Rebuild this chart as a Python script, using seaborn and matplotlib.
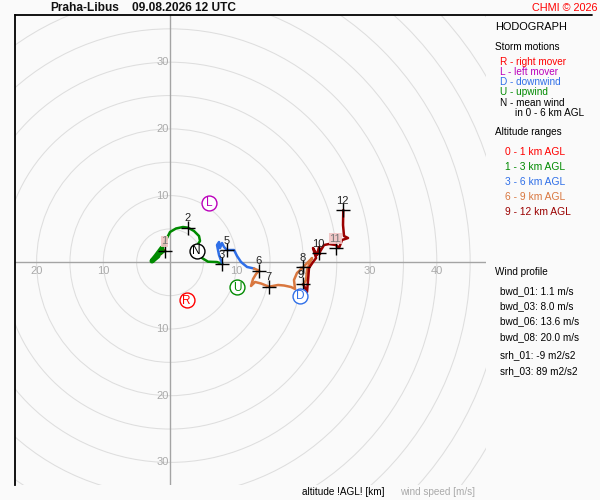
import numpy as np
import pandas as pd
import matplotlib
matplotlib.use("Agg")
import matplotlib.pyplot as plt
from matplotlib.patches import Circle
from matplotlib.lines import Line2D
import seaborn as sns

# ---------------- data ----------------
station = "Praha-Libus"
stamp = "09.08.2026 12 UTC"

# hodograph path (u, v in m/s) per altitude layer
u_0_1 = [-1.35, -1.05, -0.75]
v_0_1 = [1.25, 1.85, 1.74]

u_1_3 = [-0.75, -1.8, -2.7, -2.1, -1.2, -0.6, 0.0, 0.9, 1.95, 2.7, 3.6, 4.35, 4.5, 4.2, 4.05, 4.8, 5.7, 7.05, 7.84]
v_1_3 = [1.74, 0.94, 0.19, 0.94, 2.14, 3.34, 4.54, 5.07, 5.29, 5.19, 4.69, 3.94, 3.19, 2.74, 1.69, 0.64, 0.09, 0.04, -0.25]

u_3_6 = [7.84, 7.35, 7.05, 7.35, 7.5, 7.8, 8.1, 8.55, 9.6, 10.05, 10.65, 11.55, 12.6]
v_3_6 = [-0.25, 1.09, 2.59, 3.04, 2.14, 2.89, 2.29, 1.84, 1.84, 0.94, 0.04, -0.7, -0.93]

u_6_9 = [12.6, 13.35, 12.9, 12.45, 12.15, 12.75, 13.65, 14.84, 16.2, 17.1, 18.14, 18.74, 18.59, 19.04, 19.99, 20.7, 21.3, 21.0, 20.54, 20.4, 19.99]
v_6_9 = [-0.93, -1.26, -1.75, -2.5, -3.55, -2.95, -3.18, -3.66, -3.4, -3.48, -3.7, -4.0, -2.65, -1.6, -0.7, 0.04, 0.64, 0.04, -1.15, -2.65, -3.3]

u_9_12 = [19.99, 20.54, 20.7, 20.84, 21.44, 21.9, 21.44, 22.04, 22.34, 22.5, 22.34, 23.09, 23.84, 24.89, 25.34, 25.79, 26.69, 26.09, 25.94, 25.98]
v_9_12 = [-3.3, -4.45, -2.65, -0.85, 0.04, 0.64, 2.14, 1.09, 2.29, 1.24, 1.35, 2.59, 2.74, 2.59, 2.14, 3.34, 3.64, 3.94, 5.59, 7.84]

layers = ["0 - 1 km AGL", "1 - 3 km AGL", "3 - 6 km AGL", "6 - 9 km AGL", "9 - 12 km AGL"]
layer_colors = ["#ff0000", "#008a00", "#2f6fe8", "#d9773f", "#9a0000"]

# altitude markers (km)
alt_labels = ["1", "2", "3", "5", "6", "7", "8", "9", "10", "11", "12"]
alt_u = [-0.75, 2.7, 7.84, 8.6, 13.4, 14.9, 20.0, 20.0, 22.3, 24.9, 26.0]
alt_v = [1.74, 5.19, -0.25, 1.84, -1.26, -3.66, -0.7, -3.3, 1.35, 2.1, 7.84]

# storm motions
storm_letters = ["R", "L", "N", "U", "D"]
storm_u = [2.5, 5.9, 4.0, 10.1, 19.5]
storm_v = [-5.7, 8.9, 1.7, -3.74, -5.06]
storm_colors = ["#ff0000", "#bb00bb", "#000000", "#008a00", "#2f6fe8"]

# rings and labels
ring_radii = list(range(5, 65, 5))
hlabels = [-20, -10, 10, 20, 30, 40]
vlabels = [30, 20, 10, -10, -20, -30]

# legend texts
storm_legend = ["R - right mover", "L - left mover", "D - downwind", "U - upwind", "N - mean wind"]
storm_legend_colors = ["#ff0000", "#bb00bb", "#2f6fe8", "#008a00", "#000000"]
profile_texts = ["bwd_01: 1.1 m/s", "bwd_03: 8.0 m/s", "bwd_06: 13.6 m/s", "bwd_08: 20.0 m/s",
                 "srh_01: -9 m2/s2", "srh_03: 89 m2/s2"]

# ---------------- style ----------------
sns.set_theme(style="white")
plt.rcParams["font.family"] = ["Liberation Sans", "DejaVu Sans"]
BG = "#fafafa"

fig = plt.figure(figsize=(6, 5), dpi=100, facecolor=BG)
W, H = 600.0, 500.0


def fx(x):
    return x / W


def fy(y):
    return 1 - y / H


ax = fig.add_axes([15 / W, 15 / H, 471 / W, 470 / H])
ax.set_facecolor(BG)
S = 6.67
ax.set_xlim(-155 / S, 316 / S)
ax.set_ylim((262.3 - 485) / S, 262.3 / S - 15 / S)

for r in ring_radii:
    ax.add_patch(Circle((0, 0), r, fill=False, ec="#dedede", lw=0.75, zorder=1))
ax.axhline(0, color="#a4a4a4", lw=1.0, zorder=2)
ax.axvline(0, color="#a4a4a4", lw=1.0, zorder=2)

for h in hlabels:
    ax.annotate(str(abs(h)), (h, 0), xytext=(0, -6.3), textcoords="offset points",
                ha="center", va="center", color="#aaaaaa", fontsize=8, zorder=2)
for vv in vlabels:
    ax.annotate(str(abs(vv)), (0, vv), xytext=(-1, 0), textcoords="offset points",
                ha="right", va="center", color="#aaaaaa", fontsize=8, zorder=2)

# hodograph
us = [u_0_1, u_1_3, u_3_6, u_6_9, u_9_12]
vs = [v_0_1, v_1_3, v_3_6, v_6_9, v_9_12]
rows = []
for name, uu, vvv in zip(layers, us, vs):
    for i, (a, b) in enumerate(zip(uu, vvv)):
        rows.append({"u": a, "v": b, "layer": name, "order": i})
df = pd.DataFrame(rows)
sns.lineplot(data=df, x="u", y="v", hue="layer", palette=dict(zip(layers, layer_colors)),
             sort=False, estimator=None, legend=False, lw=1.8, ax=ax, zorder=4)
# thick start of the low-level segment
low = df[(df.layer == "1 - 3 km AGL") & (df.order >= 1) & (df.order <= 4)]
sns.lineplot(data=low, x="u", y="v", sort=False, estimator=None, color="#008a00",
             lw=3.6, ax=ax, zorder=4, legend=False)

# altitude crosses
alt_df = pd.DataFrame({"u": alt_u, "v": alt_v, "lab": alt_labels})
sns.scatterplot(data=alt_df, x="u", y="v", marker="+", s=110, color="black",
                linewidth=1.0, ax=ax, zorder=6, legend=False)
for lab, a, b in zip(alt_labels, alt_u, alt_v):
    kw = {}
    if lab in ("1", "11"):
        kw["bbox"] = dict(boxstyle="square,pad=0.05", fc="#f2c4c4", ec="none", alpha=0.9)
    dx = -1.8 if lab == "9" else -0.5
    ax.annotate(lab, (a, b), xytext=(dx, 6.8), textcoords="offset points",
                ha="center", va="center", fontsize=8,
                color="#222222" if lab not in ("1", "11") else "#777777",
                zorder=7, **kw)

# storm motions
for k, a, b, c in zip(storm_letters, storm_u, storm_v, storm_colors):
    ax.scatter([a], [b], s=115, marker="o", facecolor="white", edgecolor=c, linewidth=1.0, zorder=8)
    ax.text(a, b - 0.05, k, ha="center", va="center", color=c, fontsize=8.5, zorder=9)

ax.set_xlabel("")
ax.set_ylabel("")
ax.set_xticks([])
ax.set_yticks([])
for sp in ["right", "bottom", "top"]:
    ax.spines[sp].set_visible(False)
ax.spines["left"].set_color("black")
ax.spines["left"].set_linewidth(1.3)

# top frame line across the figure
fig.add_artist(Line2D([fx(15), fx(592)], [fy(15), fy(15)], color="black", lw=1.3))

# title texts
fig.text(fx(50), fy(8), station, ha="left", va="center", fontsize=8.6, fontweight="bold", color="#111111")
fig.text(fx(132), fy(8), stamp, ha="left", va="center", fontsize=8.6, fontweight="bold", color="#111111")
fig.text(fx(598), fy(8), "CHMI \u00a9 2026", ha="right", va="center", fontsize=7.8, color="#ff0000")

# legend panel
fig.text(fx(495), fy(27), "HODOGRAPH", ha="left", va="center", fontsize=7.9, color="black")
fig.text(fx(495), fy(47), "Storm motions", ha="left", va="center", fontsize=7.2, color="black")
for i, (t, c) in enumerate(zip(storm_legend, storm_legend_colors)):
    fig.text(fx(500), fy(61.7 + 10.2 * i), t, ha="left", va="center", fontsize=7.2, color=c)
fig.text(fx(515), fy(112.5), "in 0 - 6 km AGL", ha="left", va="center", fontsize=7.2, color="black")
fig.text(fx(495), fy(132), "Altitude ranges", ha="left", va="center", fontsize=7.2, color="black")
for i, (t, c) in enumerate(zip(layers, layer_colors)):
    fig.text(fx(505), fy(151.7 + 15 * i), t, ha="left", va="center", fontsize=7.4, color=c)

fig.text(fx(495), fy(272), "Wind profile", ha="left", va="center", fontsize=7.2, color="black")
prof_y = [291, 306, 321, 337, 355, 371]
for t, yy in zip(profile_texts, prof_y):
    fig.text(fx(500), fy(yy), t, ha="left", va="center", fontsize=7.2, color="black")

# bottom labels
fig.text(fx(343), fy(492), "altitude !AGL! [km]", ha="center", va="center", fontsize=7.2, color="black")
fig.text(fx(438), fy(492), "wind speed [m/s]", ha="center", va="center", fontsize=7.2, color="#aaaaaa")

fig.savefig("out.png", dpi=100, facecolor=BG)
